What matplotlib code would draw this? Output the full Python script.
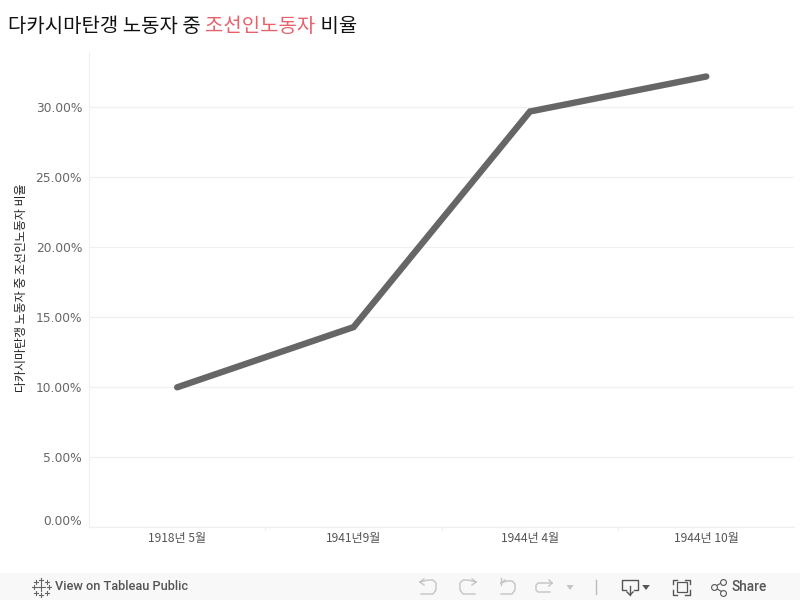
import matplotlib
matplotlib.use("Agg")
import matplotlib.pyplot as plt
from matplotlib.patches import Rectangle, Polygon
from matplotlib.lines import Line2D
from matplotlib.ticker import FixedLocator, FixedFormatter
from matplotlib.transforms import ScaledTranslation

plt.rcParams['font.family'] = ['Noto Sans CJK KR', 'DejaVu Sans']

categories = ['1918년 5월', '1941년9월', '1944년 4월', '1944년 10월']
ratio_pct = [10.0, 14.3, 29.7, 32.2]
y_ticks = [0, 5, 10, 15, 20, 25, 30]
y_labels = ['0.00%', '5.00%', '10.00%', '15.00%', '20.00%', '25.00%', '30.00%']
y_title = '다카시마탄갱 노동자 중 조선인노동자 비율'
title_parts = [('다카시마탄갱 노동자 중 ', '#111111'), ('조선인노동자', '#e8606a'), (' 비율', '#111111')]

W, H = 800, 600
fig = plt.figure(figsize=(W/100, H/100), dpi=100, facecolor='white')
def fx(x): return x / W
def fy(y): return 1 - y / H

ax = fig.add_axes([fx(89), fy(527.3), (794.5-89)/W, (527.3-52)/H])
ax.set_xlim(-0.5, 3.5)
ax.set_ylim(0, (527.3-52)/14)
ax.plot(range(4), ratio_pct, color='#666666', lw=4.6, solid_capstyle='round', solid_joinstyle='miter', zorder=3)

ax.yaxis.set_major_locator(FixedLocator(y_ticks))
ax.yaxis.set_major_formatter(FixedFormatter(y_labels))
ax.set_xticks(range(4))
ax.set_xticklabels(categories)
ax.set_xticks([0.5, 1.5, 2.5], minor=True)
ax.tick_params(axis='x', which='major', length=0, labelsize=8.7, labelcolor='#555555', pad=3.2)
ax.tick_params(axis='x', which='minor', length=3, color='#f0f0f0', width=0.8)
ax.tick_params(axis='y', length=0, labelsize=8.8, labelcolor='#666666', pad=5,
               labelfontfamily='DejaVu Sans')
lab0 = ax.get_yticklabels()[0]
lab0.set_transform(lab0.get_transform() + ScaledTranslation(0, 7.5/100, fig.dpi_scale_trans))
ax.grid(axis='y', color='#f0f0f0', lw=0.9)
ax.set_axisbelow(True)
for s in ('top', 'right'):
    ax.spines[s].set_visible(False)
for s in ('left', 'bottom'):
    ax.spines[s].set_color('#f0f0f0')
    ax.spines[s].set_linewidth(0.9)

fig.text(fx(22), fy(288), y_title, rotation=90, ha='center', va='center', fontsize=8.6, color='#222222')

# title, multi-colour
renderer = fig.canvas.get_renderer()
x = 8.0
for part, col in title_parts:
    fig.text(fx(x), fy(26), part, fontsize=14.35, color=col, ha='left', va='center')
    probe = fig.text(0, 0, part.replace(' ', '\u00a0'), fontsize=14.35)
    x += probe.get_window_extent(renderer).width
    probe.remove()

# Tableau toolbar
fig.add_artist(Rectangle((0, 0), 1, fy(573), transform=fig.transFigure, fc='#f8f8f8', ec='none'))
def line(xs, ys, c='#666666', lw=1.0):
    fig.add_artist(Line2D([fx(a) for a in xs], [fy(b) for b in ys], color=c, lw=lw, transform=fig.transFigure))
def tri(cx, cy, c='#666666', s=3.5):
    fig.add_artist(Polygon([(fx(cx-s), fy(cy-2)), (fx(cx+s), fy(cy-2)), (fx(cx), fy(cy+3))], transform=fig.transFigure, fc=c, ec='none'))
def ring(cx, cy, d, c='#666666'):
    fig.add_artist(Line2D([fx(cx)], [fy(cy)], marker='o', ms=d, mfc='#f8f8f8', mec=c, mew=0.8, transform=fig.transFigure))

# tableau logo
for cx, cy, r in [(41, 587, 4), (33.5, 587, 2), (48.5, 587, 2), (41, 579.5, 2), (41, 594.5, 2), (35.5, 581.5, 2), (46.5, 581.5, 2), (35.5, 592.5, 2), (46.5, 592.5, 2)]:
    line([cx-r, cx+r], [cy, cy], '#666666', 0.8)
    line([cx, cx], [cy-r, cy+r], '#666666', 0.8)
fig.text(fx(55), fy(587), 'View on Tableau Public', fontsize=9.2, color='#555555', family='Roboto', ha='left', va='center', fontweight='medium')

g = '#c4c4c4'
line([420, 428, 433, 436, 436, 433, 428, 421], [582, 580, 580, 583, 590, 594, 594, 594], g)
line([420, 424], [582, 579], g); line([420, 424], [582, 585], g)
line([476, 468, 463, 460, 460, 463, 468, 475], [582, 580, 580, 583, 590, 594, 594, 594], g)
line([476, 472], [582, 579], g); line([476, 472], [582, 585], g)
line([501, 507, 512, 515, 515, 512, 507, 501], [583, 581, 581, 584, 590, 594, 594, 594], g)
line([501, 501], [578, 585], g); line([501, 505], [583, 580], g)
line([552, 542, 538, 536, 536, 538, 542, 550], [583, 583, 583, 585, 590, 592, 592, 592], g)
line([552, 549], [583, 580], g); line([552, 549], [583, 586], g)
tri(570, 587, '#c4c4c4', 3.5)
line([596, 596], [580, 594], '#bbbbbb')
# download
d = '#555555'
line([626, 622, 622, 638, 638, 634], [590, 590, 580, 580, 590, 590], d)
line([630, 630], [586, 595], d); line([627, 630, 633], [592, 595, 592], d)
tri(646, 587, d, 3.8)
# fullscreen
line([673, 673, 677], [584, 579.5, 579.5], d); line([685, 689.5, 689.5], [579.5, 579.5, 584], d)
line([673, 673, 677], [590, 594.5, 594.5], d); line([685, 689.5, 689.5], [594.5, 594.5, 590], d)
fig.add_artist(Rectangle((fx(676.5), fy(592)), 10/W, 10/H, transform=fig.transFigure, fc='none', ec=d, lw=0.9))
# share
line([714, 723], [587, 582], d, 0.8); line([714, 723], [587, 592.5], d, 0.8)
ring(714, 587, 4.2, d); ring(723, 581.5, 4.2, d); ring(723, 592.5, 4.2, d)
fig.text(fx(732), fy(587), 'Share', fontsize=9.8, color='#555555', family='Roboto', ha='left', va='center', fontweight='medium')

fig.savefig('out.png', dpi=100, facecolor='white')
